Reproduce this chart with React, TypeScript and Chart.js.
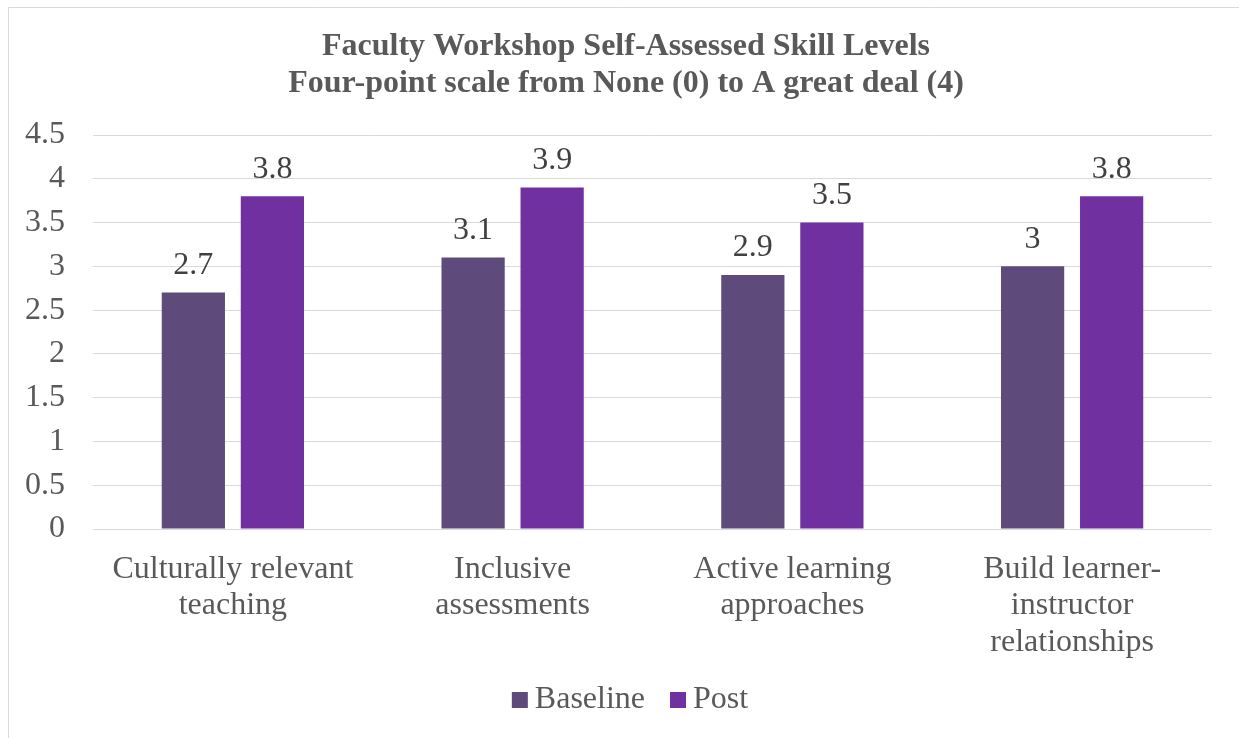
import React, { useEffect, useRef } from "react";
import { Chart, registerables } from "chart.js";

Chart.register(...registerables);

const categories: string[][] = [
  ["Culturally relevant", "teaching"],
  ["Inclusive", "assessments"],
  ["Active learning", "approaches"],
  ["Build learner-", "instructor", "relationships"],
];
const baselineValues = [2.7, 3.1, 2.9, 3.0];
const postValues = [3.8, 3.9, 3.5, 3.8];
const seriesNames = ["Baseline", "Post"];
const titleLines = [
  "Faculty Workshop Self-Assessed Skill Levels",
  "Four-point scale from None (0) to A great deal (4)",
];

const FONT = "'Liberation Serif', 'Times New Roman', serif";

const dataLabelPlugin = {
  id: "dataLabels",
  afterDatasetsDraw(chart: any) {
    const ctx = chart.ctx;
    ctx.save();
    ctx.font = `32px ${FONT}`;
    ctx.fillStyle = "#404040";
    ctx.textAlign = "center";
    ctx.textBaseline = "middle";
    chart.data.datasets.forEach((ds: any, i: number) => {
      const meta = chart.getDatasetMeta(i);
      meta.data.forEach((bar: any, j: number) => {
        const v = ds.data[j];
        ctx.fillText(String(v), bar.x, bar.y - 27);
      });
    });
    ctx.restore();
  },
};

const borderPlugin = {
  id: "frame",
  beforeDraw(chart: any) {
    const ctx = chart.ctx;
    ctx.save();
    ctx.fillStyle = "#ffffff";
    ctx.fillRect(0, 0, chart.width, chart.height);
    ctx.strokeStyle = "#d9d9d9";
    ctx.lineWidth = 1;
    ctx.beginPath();
    ctx.moveTo(8.5, chart.height);
    ctx.lineTo(8.5, 7.5);
    ctx.lineTo(chart.width, 7.5);
    ctx.stroke();
    ctx.restore();
  },
};

const customTitlePlugin = {
  id: "customTitle",
  afterDraw(chart: any) {
    const ctx = chart.ctx;
    ctx.save();
    ctx.font = `bold 32px ${FONT}`;
    ctx.fillStyle = "#595959";
    ctx.textAlign = "center";
    ctx.textBaseline = "middle";
    titleLines.forEach((line, i) => {
      ctx.fillText(line, 626, 47 + i * 36.5);
    });
    ctx.restore();
  },
};

const customLegendPlugin = {
  id: "customLegend",
  afterDraw(chart: any) {
    const ctx = chart.ctx;
    ctx.save();
    ctx.font = `32px ${FONT}`;
    const box = 16;
    const gapBoxText = 7;
    const gapItems = 25;
    const items = chart.data.datasets.map((ds: any) => ({
      label: ds.label,
      color: ds.backgroundColor,
      w: ctx.measureText(ds.label).width,
    }));
    const total =
      items.reduce((s: number, it: any) => s + box + gapBoxText + it.w, 0) +
      gapItems * (items.length - 1);
    let x = 630 - total / 2;
    const cy = 700;
    items.forEach((it: any) => {
      ctx.fillStyle = it.color;
      ctx.fillRect(x, cy - box / 2, box, box);
      x += box + gapBoxText;
      ctx.fillStyle = "#595959";
      ctx.textAlign = "left";
      ctx.textBaseline = "middle";
      ctx.fillText(it.label, x, cy);
      x += it.w + gapItems;
    });
    ctx.restore();
  },
};

export default function App() {
  const ref = useRef<HTMLCanvasElement>(null);
  useEffect(() => {
    if (!ref.current) return;
    const chart = new Chart(ref.current, {
      type: "bar",
      data: {
        labels: categories,
        datasets: [
          {
            label: seriesNames[0],
            data: baselineValues,
            backgroundColor: "#5f4b7b",
            categoryPercentage: 0.565,
            barPercentage: 0.8,
          },
          {
            label: seriesNames[1],
            data: postValues,
            backgroundColor: "#7030a0",
            categoryPercentage: 0.565,
            barPercentage: 0.8,
          },
        ],
      },
      options: {
        animation: false,
        responsive: false,
        maintainAspectRatio: false,
        layout: { padding: { left: 10, right: 27, top: 135, bottom: 64 } },
        plugins: {
          title: { display: false },
          legend: { display: false },
          tooltip: { enabled: false },
        },
        scales: {
          x: {
            afterFit: (s: any) => {
              s.height = 145;
            },
            grid: { display: false, drawTicks: false },
            border: { display: false },
            ticks: {
              color: "#595959",
              font: { family: FONT, size: 32, lineHeight: 1.14 },
              padding: 22,
              maxRotation: 0,
              autoSkip: false,
            },
          },
          y: {
            min: 0,
            max: 4.5,
            afterFit: (s: any) => {
              s.width = 83;
            },
            grid: { color: "#d9d9d9", drawTicks: false, lineWidth: 1 },
            border: { display: false },
            ticks: {
              stepSize: 0.5,
              color: "#595959",
              font: { family: FONT, size: 32 },
              padding: 28,
              callback: (v: any) => String(Number(v)),
            },
          },
        },
      },
      plugins: [borderPlugin, dataLabelPlugin, customTitlePlugin, customLegendPlugin],
    });
    return () => chart.destroy();
  }, []);
  return (
    <div style={{ position: "absolute", left: 0, top: 0, width: 1239, height: 738 }}>
      <canvas ref={ref} width={1239} height={738} style={{ display: "block" }} />
    </div>
  );
}
